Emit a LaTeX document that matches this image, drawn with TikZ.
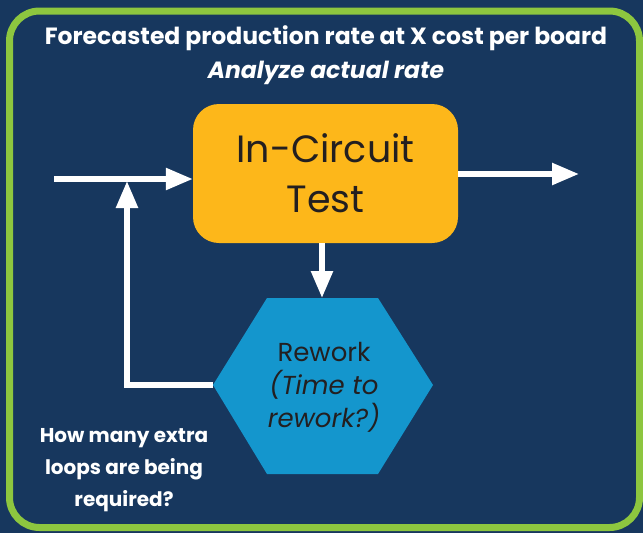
\documentclass[tikz,border=0pt]{standalone}
\usepackage{fontspec}
\setmainfont{Poppins}
\usetikzlibrary{arrows.meta}
\definecolor{navy}{HTML}{17375E}
\definecolor{lime}{HTML}{8DC63F}
\definecolor{orng}{HTML}{FDB71A}
\definecolor{hexblue}{HTML}{1496CD}
\definecolor{dtext}{HTML}{231F20}
\begin{document}
\begin{tikzpicture}[x=1pt,y=-1pt,
  flow/.style={draw=white, line width=5.5pt, -{Triangle[length=27pt,width=21pt]}},
  title/.style={text=white, font=\fontsize{23.5}{28}\selectfont\bfseries, inner sep=0pt},
  note/.style={text=white, font=\fontsize{20}{32}\selectfont\bfseries, align=center, inner sep=0pt},
  testbox/.style={fill=orng, rounded corners=26pt, minimum width=265pt, minimum height=139pt, inner sep=0pt,
    text=dtext, align=center, font=\fontsize{38}{50}\selectfont},
  hexstyle/.style={fill=hexblue},
  hextext/.style={text=dtext, align=center, font=\fontsize{26}{33}\selectfont, inner sep=0pt}]
\fill[navy] (0,0) rectangle (643,533);
\useasboundingbox (0,0) rectangle (643,533);
\draw[lime, line width=7pt, rounded corners=30pt] (9.5,11) rectangle (639.5,527.5);
% titles
\node[title] (t1) at (326,38) {Forecasted production rate at X cost per board};
\node[title, font=\fontsize{23.5}{28}\selectfont\bfseries\itshape] (t2) at (326,73) {Analyze actual rate};
% main box
\node[testbox] (ict) at (325.5,173.5) {In-Circuit\\Test};
% hexagon
\path[hexstyle] (267,298) -- (378,298) -- (433,385) -- (378,474) -- (267,474) -- (213,385) -- cycle;
\coordinate (hexT) at (322,298);
\coordinate (hexL) at (213,385);
\node[hextext] (rw) at (324,387) {Rework\\\itshape(Time to\\\itshape rework?)};
% connectors
\coordinate (inS) at (54,179);
\coordinate (outE) at (579,174);
\coordinate (loopC) at (127,385);
\coordinate (loopT) at (127,181);
\draw[flow] (inS) -- (ict.west |- inS);
\draw[flow] (ict.east |- outE) -- (outE);
\draw[flow] (ict.south -| hexT) -- (hexT);
\draw[flow] (hexL) -- (loopC) -- (loopT);
% note
\node[note] (q) at (124,470) {How many extra\\loops are being\\required?};
\end{tikzpicture}
\end{document}
